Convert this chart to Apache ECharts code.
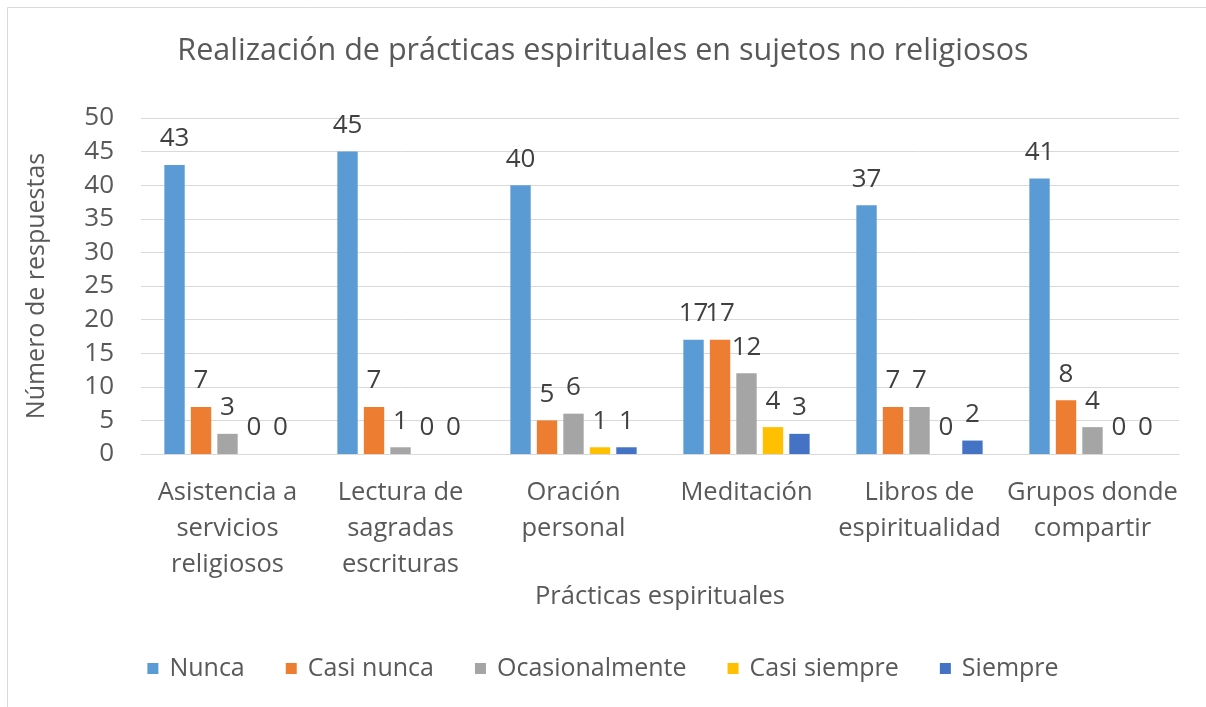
<!DOCTYPE html>
<html>
    <head>
        <meta charset="utf-8">
        <title>Prácticas espirituales</title>
        <script src="https://cdn.jsdelivr.net/npm/echarts@6/dist/echarts.min.js"></script>
        <style type="text/css">
            *{margin: 0}
            body{background: #fff}
        </style>
    </head>
    <body>
        <div id="main" style="width: 1206px;height:707px;"></div>
        <script type="text/javascript">
        // datos
        var categorias = ['Asistencia a\nservicios\nreligiosos', 'Lectura de\nsagradas\nescrituras', 'Oración\npersonal', 'Meditación', 'Libros de\nespiritualidad', 'Grupos donde\ncompartir'];
        var nunca = [43, 45, 40, 17, 37, 41];
        var casiNunca = [7, 7, 5, 17, 7, 8];
        var ocasionalmente = [3, 1, 6, 12, 7, 4];
        var casiSiempre = [0, 0, 1, 4, 0, 0];
        var siempre = [0, 0, 1, 3, 2, 0];
        var yTicks = {min: 0, max: 50, interval: 5};

        var fuente = '"Open Sans", Lato, sans-serif';
        var gris = '#595959';

        function serie(nombre, datos, color) {
            return {
                name: nombre,
                type: 'bar',
                data: datos,
                barGap: '30%',
                barCategoryGap: '27%',
                itemStyle: {color: color},
                label: {
                    show: true,
                    position: 'top',
                    distance: 13,
                    color: '#404040',
                    fontSize: 26,
                    fontFamily: fuente
                }
            };
        }

        var myChart = echarts.init(document.getElementById('main'));
        myChart.setOption({
            backgroundColor: '#fff',
            animation: false,
            textStyle: {fontFamily: fuente},
            graphic: [{
                type: 'rect',
                shape: {x: 7.5, y: 7.5, width: 1400, height: 900},
                style: {fill: 'none', stroke: '#D9D9D9', lineWidth: 1},
                silent: true
            }],
            title: {
                text: 'Realización de prácticas espirituales en sujetos no religiosos',
                left: 'center',
                top: 31,
                textStyle: {fontSize: 30.5, fontWeight: 'normal', color: gris, fontFamily: fuente}
            },
            legend: {
                data: ['Nunca', 'Casi nunca', 'Ocasionalmente', 'Casi siempre', 'Siempre'],
                bottom: 21,
                left: 'center',
                itemWidth: 11,
                itemHeight: 11,
                itemGap: 41,
                icon: 'rect',
                textStyle: {fontSize: 25, color: gris, fontFamily: fuente, padding: [0, 0, 0, 6]}
            },
            grid: {left: 141, right: 27, top: 118, bottom: 253},
            xAxis: {
                type: 'category',
                data: categorias,
                name: 'Prácticas espirituales',
                nameLocation: 'middle',
                nameGap: 125,
                nameTextStyle: {fontSize: 25.5, color: gris},
                axisLine: {lineStyle: {color: '#D9D9D9', width: 1}},
                axisTick: {show: false},
                axisLabel: {interval: 0, fontSize: 25.5, lineHeight: 36, color: gris, margin: 21}
            },
            yAxis: {
                type: 'value',
                min: yTicks.min,
                max: yTicks.max,
                interval: yTicks.interval,
                name: 'Número de respuestas',
                nameLocation: 'middle',
                nameGap: 92,
                nameTextStyle: {fontSize: 25, color: gris},
                axisLine: {show: false},
                axisTick: {show: false},
                axisLabel: {fontSize: 26, color: gris, margin: 27},
                splitLine: {lineStyle: {color: '#D9D9D9', width: 1}}
            },
            series: [
                serie('Nunca', nunca, '#5B9BD5'),
                serie('Casi nunca', casiNunca, '#ED7D31'),
                serie('Ocasionalmente', ocasionalmente, '#A5A5A5'),
                serie('Casi siempre', casiSiempre, '#FFC000'),
                serie('Siempre', siempre, '#4472C4')
            ]
        });
        </script>
    </body>
</html>
